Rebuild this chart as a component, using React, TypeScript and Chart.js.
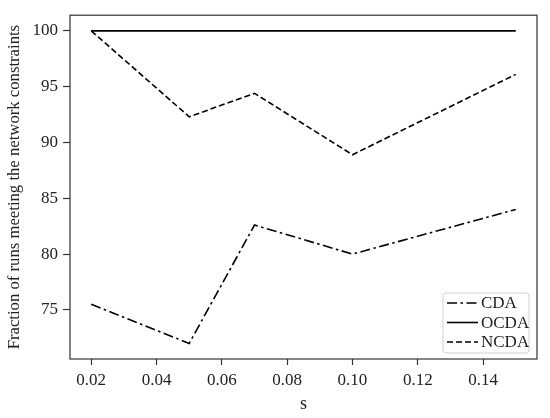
import { useEffect, useRef } from 'react';
import { Chart, registerables } from 'chart.js';

Chart.register(...registerables);

const xValues = [0.02, 0.05, 0.07, 0.1, 0.15];
const cdaValues = [75.5, 72.0, 82.6, 80.0, 84.0];
const ocdaValues = [100, 100, 100, 100, 100];
const ncdaValues = [100, 92.3, 94.4, 88.9, 96.1];
const seriesLabels = ['CDA', 'OCDA', 'NCDA'];
const xTicks = [0.02, 0.04, 0.06, 0.08, 0.1, 0.12, 0.14];
const yTicks = [75, 80, 85, 90, 95, 100];

const FONT = '"Liberation Serif", serif';
const TEXT = '#222';
const AXIS = '#333';

const dashCDA = [10, 3.5, 2.5, 3.5];
const dashNCDA = [6, 3];

const framePlugin = {
  id: 'frame',
  afterDraw(chart: any) {
    const { ctx, chartArea } = chart;
    ctx.save();
    ctx.strokeStyle = AXIS;
    ctx.lineWidth = 1.2;
    ctx.strokeRect(chartArea.left, chartArea.top, chartArea.right - chartArea.left, chartArea.bottom - chartArea.top);
    ctx.restore();
  },
};

const legendPlugin = {
  id: 'innerLegend',
  afterDraw(chart: any) {
    const { ctx, chartArea } = chart;
    const w = 86;
    const h = 60;
    const x = chartArea.right - 8 - w;
    const y = chartArea.bottom - 6 - h;
    ctx.save();
    ctx.beginPath();
    const r = 3;
    ctx.moveTo(x + r, y);
    ctx.arcTo(x + w, y, x + w, y + h, r);
    ctx.arcTo(x + w, y + h, x, y + h, r);
    ctx.arcTo(x, y + h, x, y, r);
    ctx.arcTo(x, y, x + w, y, r);
    ctx.closePath();
    ctx.fillStyle = 'rgba(255,255,255,0.9)';
    ctx.fill();
    ctx.strokeStyle = '#d0d0d0';
    ctx.lineWidth = 1;
    ctx.stroke();
    ctx.font = `17px ${FONT}`;
    ctx.textBaseline = 'middle';
    ctx.fillStyle = TEXT;
    chart.data.datasets.forEach((ds: any, i: number) => {
      const cy = y + 10 + i * 19.5;
      ctx.beginPath();
      ctx.setLineDash(ds.borderDash || []);
      ctx.strokeStyle = ds.borderColor;
      ctx.lineWidth = ds.borderWidth;
      ctx.moveTo(x + 4, cy);
      ctx.lineTo(x + 35, cy);
      ctx.stroke();
      ctx.setLineDash([]);
      ctx.fillText(ds.label, x + 38, cy + 1);
    });
    ctx.restore();
  },
};

function toPoints(ys: number[]) {
  return xValues.map((x, i) => ({ x, y: ys[i] }));
}

export default function App() {
  const ref = useRef<HTMLCanvasElement>(null);
  useEffect(() => {
    if (!ref.current) return;
    const yMin = Math.min(...cdaValues, ...ncdaValues, ...ocdaValues);
    const yMax = Math.max(...cdaValues, ...ncdaValues, ...ocdaValues);
    const yPad = (yMax - yMin) * 0.05;
    const xPad = (xValues[xValues.length - 1] - xValues[0]) * 0.05;
    const chart = new Chart(ref.current, {
      type: 'line',
      data: {
        datasets: [
          { label: seriesLabels[0], data: toPoints(cdaValues), borderColor: '#000', borderWidth: 1.6, borderDash: dashCDA, pointRadius: 0, fill: false, tension: 0 },
          { label: seriesLabels[1], data: toPoints(ocdaValues), borderColor: '#000', borderWidth: 1.6, borderDash: [], pointRadius: 0, fill: false, tension: 0 },
          { label: seriesLabels[2], data: toPoints(ncdaValues), borderColor: '#000', borderWidth: 1.6, borderDash: dashNCDA, pointRadius: 0, fill: false, tension: 0 },
        ],
      },
      options: {
        animation: false,
        responsive: false,
        layout: { padding: { left: 0, top: 14, right: 13, bottom: 0 } },
        plugins: { legend: { display: false }, tooltip: { enabled: false } },
        scales: {
          x: {
            type: 'linear',
            min: xValues[0] - xPad,
            max: xValues[xValues.length - 1] + xPad,
            afterBuildTicks: (axis: any) => { axis.ticks = xTicks.map((v) => ({ value: v })); },
            afterFit: (scale: any) => { scale.height = 59; },
            border: { display: false },
            grid: { display: true, drawOnChartArea: false, drawTicks: true, tickLength: 6, tickColor: AXIS, tickWidth: 1.2 },
            ticks: {
              color: TEXT,
              font: { family: FONT, size: 17 },
              padding: 5,
              maxRotation: 0,
              callback: (v: any) => Number(v).toFixed(2),
            },
            title: { display: true, text: 's', color: TEXT, font: { family: FONT, size: 18 }, padding: { top: 0, bottom: 3 } },
          },
          y: {
            type: 'linear',
            min: yMin - yPad,
            max: yMax + yPad,
            afterBuildTicks: (axis: any) => { axis.ticks = yTicks.map((v) => ({ value: v })); },
            afterFit: (scale: any) => { scale.width = 70; },
            border: { display: false },
            grid: { display: true, drawOnChartArea: false, drawTicks: true, tickLength: 7, tickColor: AXIS, tickWidth: 1.2 },
            ticks: {
              color: TEXT,
              font: { family: FONT, size: 17 },
              padding: 5,
              callback: (v: any) => String(v),
            },
            title: { display: true, text: 'Fraction of runs meeting the network constraints', color: TEXT, font: { family: FONT, size: 16.7 }, padding: { top: 5, bottom: 0 } },
          },
        },
      },
      plugins: [framePlugin, legendPlugin],
    });
    return () => chart.destroy();
  }, []);
  return (
    <div style={{ position: 'fixed', left: 0, top: 0, width: 550, height: 418, background: '#fff' }}>
      <canvas ref={ref} width={550} height={418} />
    </div>
  );
}
